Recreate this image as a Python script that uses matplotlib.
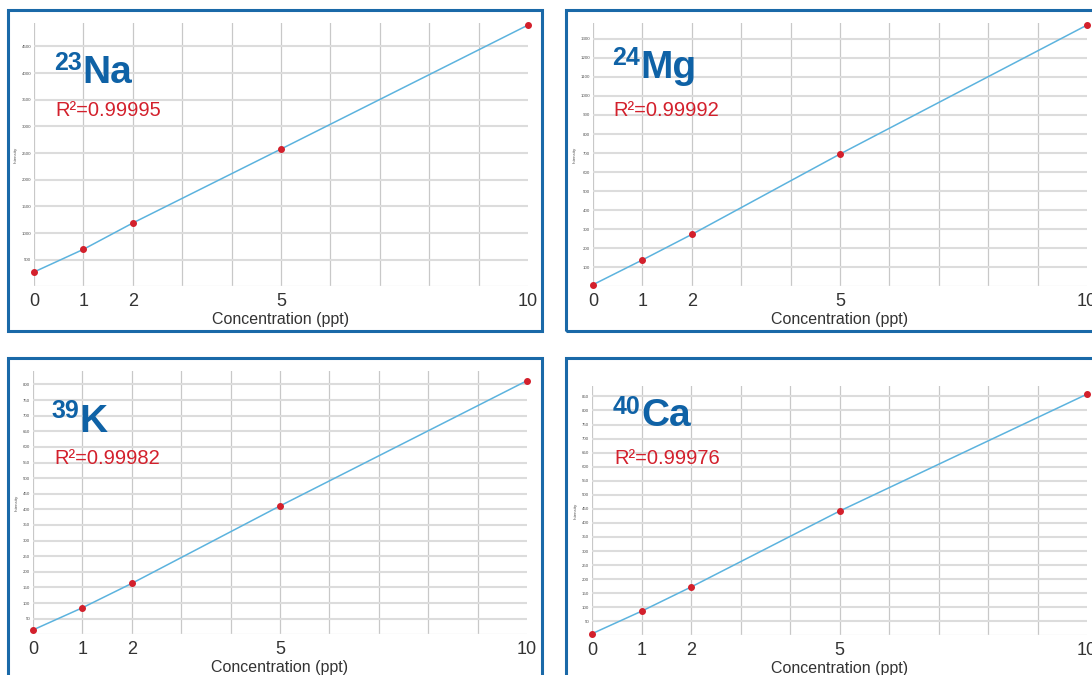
import matplotlib
matplotlib.use("Agg")
import matplotlib.pyplot as plt
from matplotlib.patches import Rectangle
import numpy as np

# calibration data
conc = [0, 1, 2, 5, 10]
xticks_shown = [0, 1, 2, 5, 10]

mass_numbers = ["23", "24", "39", "40"]
elements = ["Na", "Mg", "K", "Ca"]
r2_labels = ["0.99995", "0.99992", "0.99982", "0.99976"]

na_int = [270, 695, 1189, 2576, 4901]
mg_int = [9, 139, 273, 695, 1372]
k_int = [14, 85, 163, 411, 812]
ca_int = [6, 86, 172, 442, 858]
intensities = [na_int, mg_int, k_int, ca_int]

ytick_steps = [500, 100, 50, 50]
ymax = [4940, 1383, 843, 887]

W, H = 1092, 675
BLUE = "#1a69a8"
TITLE_BLUE = "#0f62a6"
RED = "#d3202c"
LINE = "#5cb3de"

plt.rcParams['font.family'] = ['Liberation Sans', 'DejaVu Sans']

fig = plt.figure(figsize=(W / 100, H / 100), dpi=100)
fig.patch.set_facecolor("white")


def px_box(left, top, right, bottom):
    return [left / W, 1 - bottom / H, (right - left) / W, (bottom - top) / H]


# axes boxes in pixels: left, top, right, bottom
axes_px = [(34, 23, 528, 286.4),
           (593, 23, 1087, 286.4),
           (33, 371, 527, 634.3),
           (592, 386, 1087, 635.4)]

# panel frames in pixels: left, top, right, bottom
frames_px = [(8, 10, 542, 331.5),
             (566, 10, 1110, 331.5),
             (8, 357.5, 542, 700),
             (566, 357.5, 1110, 700)]

# title / r2 anchors (left x, baseline y)
title_px = [(54, 83), (612, 78), (51, 431.5), (613, 426.5)]
r2_px = [(55, 116), (613, 116), (54, 464), (614, 464)]

for i in range(4):
    l, t, r, b = frames_px[i]
    fig.patches.append(Rectangle((l / W, 1 - b / H), (r - l) / W, (b - t) / H,
                                 transform=fig.transFigure, fill=False,
                                 edgecolor=BLUE, linewidth=2.2, zorder=0))

    ax = fig.add_axes(px_box(*axes_px[i]))
    y = intensities[i]
    ax.set_xlim(0, 10)
    ax.set_ylim(0, ymax[i])

    # grid
    for gx in range(0, 10):
        ax.axvline(gx, color="#c8c8c8", lw=0.9, zorder=1)
    step = ytick_steps[i]
    yt = np.arange(step, ymax[i], step)
    for gy in yt:
        ax.axhline(gy, color="#dcdcdc", lw=1.5, zorder=1)
    ax.axhline(0, color="#ececec", lw=1.0, zorder=1)

    ax.plot(conc, y, color=LINE, lw=1.1, zorder=3, clip_on=False)
    ax.scatter(conc, y, s=16, color=RED, zorder=4, clip_on=False)

    for s in ax.spines.values():
        s.set_visible(False)
    ax.set_xticks(xticks_shown)
    ax.set_xticklabels([str(v) for v in xticks_shown], fontsize=13, color="#333333")
    ax.tick_params(axis="x", length=0, pad=5)
    ax.set_yticks(yt)
    ax.set_yticklabels([str(int(v)) for v in yt], fontsize=3.2, color="#555555")
    ax.tick_params(axis="y", length=0, pad=2)
    ax.set_xlabel("Concentration (ppt)", fontsize=11.5, color="#333333", labelpad=1)
    ax.set_ylabel("Intensity", fontsize=3.2, color="#555555", labelpad=3)

# titles drawn in pixel coordinates
fig.canvas.draw()
renderer = fig.canvas.get_renderer()
for i in range(4):
    tx, ty = title_px[i]
    sup = fig.text(tx / W, 1 - (ty - 13) / H, mass_numbers[i], fontsize=18,
                   fontweight="bold", color=TITLE_BLUE, va="baseline", ha="left")
    bb = sup.get_window_extent(renderer)
    fig.text((bb.x1 + 1) / W, 1 - ty / H, elements[i], fontsize=28,
             fontweight="bold", color=TITLE_BLUE, va="baseline", ha="left")
    rx, ry = r2_px[i]
    fig.text(rx / W, 1 - ry / H, "R\u00b2=" + r2_labels[i], fontsize=14.5,
             color=RED, va="baseline", ha="left")

fig.savefig("out.png", dpi=100, facecolor="white")
